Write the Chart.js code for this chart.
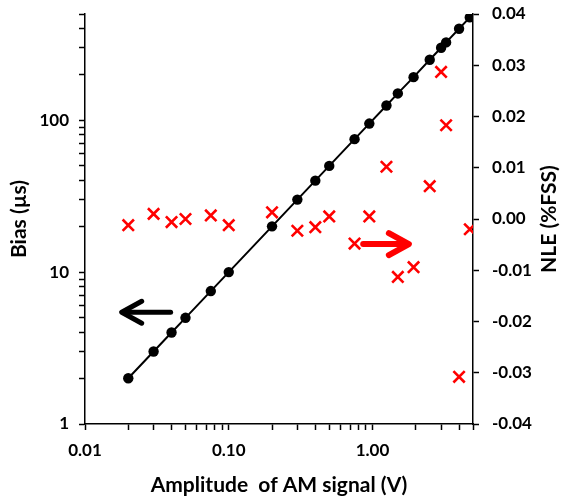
<!DOCTYPE html>
<html>
<head>
<meta charset="utf-8">
<script src="https://cdn.jsdelivr.net/npm/chart.js@4/dist/chart.umd.min.js"></script>
<style>
html,body{margin:0;padding:0;background:#fff;}
#wrap{width:565px;height:500px;position:relative;}
</style>
</head>
<body>
<div id="wrap"><canvas id="c" width="565" height="500"></canvas></div>
<script>
// ---- data ----
const amplitude = [0.02,0.03,0.04,0.05,0.075,0.1,0.2,0.3,0.4,0.5,0.75,0.95,1.25,1.5,1.93,2.5,3,3.25,4,4.75];
const bias      = [2,3,4,5,7.5,10,20,30,40,50,75,95,125,150,192,250,300,325,400,475];
const nle       = [-0.0012,0.0010,-0.0006,0.0000,0.0007,-0.0012,0.0013,-0.0023,-0.0016,0.0005,-0.0048,0.0005,0.0102,-0.0113,-0.0094,0.0064,0.0287,0.0183,-0.0308,-0.0020];

// ---- ticks ----
const xTicks = [0.01,0.02,0.03,0.04,0.05,0.06,0.07,0.08,0.09,0.1,0.2,0.3,0.4,0.5,0.6,0.7,0.8,0.9,1,2,3,4,5];
const xLabelValues = [0.01,0.1,1];
const xLabelTexts  = ['0.01','0.10','1.00'];
const yTicks = [1,2,3,4,5,6,7,8,9,10,20,30,40,50,60,70,80,90,100,200,300,400,500];
const yLabelValues = [1,10,100];
const yLabelTexts  = ['1','10','100'];
const y2Ticks = [-0.04,-0.03,-0.02,-0.01,0,0.01,0.02,0.03,0.04];
const y2LabelTexts = ['-0.04','-0.03','-0.02','-0.01','0.00','0.01','0.02','0.03','0.04'];

// ---- titles ----
const xTitle = 'Amplitude  of AM signal (V)';
const yTitle = 'Bias (µs)';
const y2Title = 'NLE (%FSS)';

// ---- arrow annotations (data coordinates) ----
const biasArrow = {fromX:0.0394, toX:0.018, y:5.44};   // points left, to Bias axis
const nleArrow  = {fromX:0.861, toX:1.79, y:-0.0049};  // points right, to NLE axis

const FONT = 'Lato';
const TICK_SIZE = 17;
const TITLE_SIZE = 21;
function near(a,b){return Math.abs(a-b) < 1e-9*Math.max(1,Math.abs(b));}
function labelFor(v, vals, texts){
  for (let i=0;i<vals.length;i++) if (near(v, vals[i])) return texts[i];
  return '';
}

const arrowPlugin = {
  id:'arrows',
  afterDatasetsDraw(chart){
    const {ctx, scales:{x,y,y2}} = chart;
    function arrow(x0,x1,py,color,head,w){
      const px0 = x.getPixelForValue(x0), px1 = x.getPixelForValue(x1);
      const dir = Math.sign(px1-px0);
      ctx.save();
      ctx.strokeStyle = color; ctx.lineWidth = w; ctx.lineCap='round'; ctx.lineJoin='round';
      ctx.beginPath(); ctx.moveTo(px0,py); ctx.lineTo(px1 - dir*3,py); ctx.stroke();
      ctx.beginPath();
      ctx.moveTo(px1 - dir*head, py - head*0.55);
      ctx.lineTo(px1, py);
      ctx.lineTo(px1 - dir*head, py + head*0.55);
      ctx.stroke();
      ctx.restore();
    }
    arrow(biasArrow.fromX, biasArrow.toX, y.getPixelForValue(biasArrow.y), '#000', 20, 5);
    arrow(nleArrow.fromX, nleArrow.toX, y2.getPixelForValue(nleArrow.y), '#ff0000', 20, 6);
  },
  afterDraw(chart){
    // right axis title, reading bottom-to-top like the reference
    const {ctx, chartArea} = chart;
    ctx.save();
    ctx.translate(chart.width - 16, (chartArea.top + chartArea.bottom)/2);
    ctx.rotate(-Math.PI/2);
    ctx.font = 'bold ' + TITLE_SIZE + 'px ' + FONT;
    ctx.fillStyle = '#000';
    ctx.textAlign = 'center';
    ctx.textBaseline = 'middle';
    ctx.fillText(y2Title, 0, 0);
    ctx.restore();
  }
};

function noEdgePad(s){ s.paddingTop = 0; s.paddingBottom = 0; s.paddingLeft = 0; s.paddingRight = 0; }

Chart.defaults.font.family = FONT;
Chart.defaults.font.weight = 'bold';
Chart.defaults.color = '#000';

new Chart(document.getElementById('c'), {
  type:'line',
  data:{
    datasets:[
      {
        label:'NLE',
        data: amplitude.map((a,i)=>({x:a,y:nle[i]})),
        yAxisID:'y2',
        showLine:false,
        pointStyle:'crossRot',
        pointRadius:8,
        pointBorderWidth:2.6,
        borderColor:'#ff0000',
        backgroundColor:'#ff0000',
        order:0
      },
      {
        label:'Bias',
        data: amplitude.map((a,i)=>({x:a,y:bias[i]})),
        yAxisID:'y',
        borderColor:'#000',
        borderWidth:2,
        backgroundColor:'#000',
        pointRadius:5.2,
        pointBorderWidth:0,
        pointBackgroundColor:'#000',
        tension:0,
        order:1
      }
    ]
  },
  options:{
    responsive:false,
    animation:false,
    events:[],
    layout:{padding:{top:14,left:0,right:0,bottom:0}},
    plugins:{legend:{display:false},tooltip:{enabled:false}},
    scales:{
      x:{
        type:'logarithmic', position:'bottom', min:0.01, max:5,
        afterBuildTicks(s){ s.ticks = xTicks.map(v=>({value:v})); },
        afterFit(s){ s.height = 76; noEdgePad(s); },
        grid:{drawOnChartArea:false, drawTicks:true, tickLength:6, tickColor:'#000', tickWidth:1.5},
        border:{display:true, color:'#000', width:1.5},
        ticks:{autoSkip:false, maxRotation:0, minRotation:0, padding:10, font:{size:TICK_SIZE, weight:'bold'},
          callback:(v)=>labelFor(v, xLabelValues, xLabelTexts)},
        title:{display:true, text:xTitle, font:{size:TITLE_SIZE, weight:'bold'}, padding:{top:0,bottom:2}}
      },
      y:{
        type:'logarithmic', position:'left', min:1, max:500,
        afterBuildTicks(s){ s.ticks = yTicks.map(v=>({value:v})); },
        afterFit(s){ s.width = 85; noEdgePad(s); },
        grid:{drawOnChartArea:false, drawTicks:true, tickLength:6, tickColor:'#000', tickWidth:1.5},
        border:{display:true, color:'#000', width:1.5},
        ticks:{autoSkip:false, padding:10, font:{size:TICK_SIZE, weight:'bold'},
          callback:(v)=>labelFor(v, yLabelValues, yLabelTexts)},
        title:{display:true, text:yTitle, font:{size:TITLE_SIZE, weight:'bold'}, padding:{top:7,bottom:0}}
      },
      y2:{
        type:'linear', position:'right', min:-0.04, max:0.04,
        afterBuildTicks(s){ s.ticks = y2Ticks.map(v=>({value:v})); },
        afterFit(s){ s.width = 92; noEdgePad(s); },
        grid:{drawOnChartArea:false, drawTicks:true, tickLength:6, tickColor:'#000', tickWidth:1.5},
        border:{display:true, color:'#000', width:1.5},
        ticks:{autoSkip:false, padding:13, font:{size:TICK_SIZE, weight:'bold'},
          callback:(v)=>labelFor(v, y2Ticks, y2LabelTexts)},
        title:{display:false}
      }
    }
  },
  plugins:[arrowPlugin]
});
</script>
</body>
</html>
